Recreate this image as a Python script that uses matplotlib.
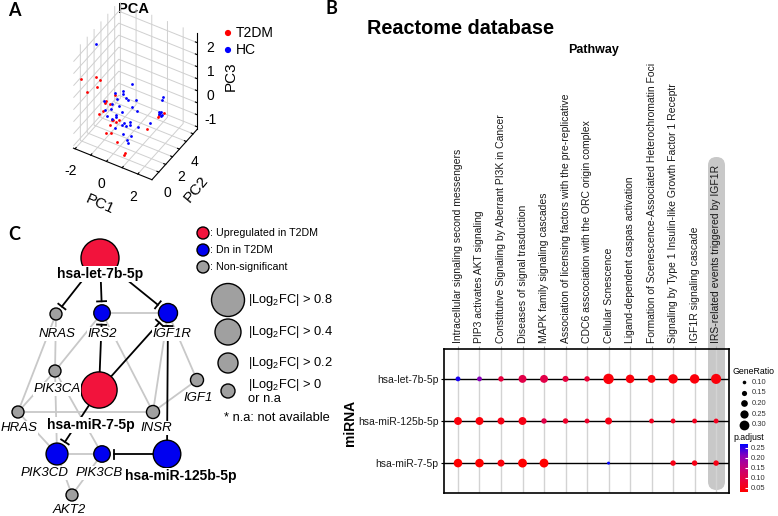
"""
multi-panel figure: PCA (A), Reactome dot plot (B), miRNA-target network (C)
"""

import numpy as np
import matplotlib
matplotlib.use('Agg')
import matplotlib.pyplot as plt
from matplotlib.patches import Circle, FancyBboxPatch
from matplotlib.colors import LinearSegmentedColormap, Normalize
from matplotlib.cm import ScalarMappable

plt.rcParams['font.family'] = ['Liberation Sans', 'DejaVu Sans']
plt.rcParams['mathtext.default'] = 'regular'

t2dm_pc1 = [-2.04, -1.32, -1.30, -1.69, -1.25, -0.88, -0.95, -0.58, -0.90, -1.11, -0.52, -0.46, -0.51,
            -0.67, -0.30, -0.49, -0.14, 0.21, 0.81, 0.74, 1.73, 1.32, 1.67, -0.67, 1.39]
t2dm_pc2 = [0.0, 0.5, 1.0, 0.0, 0.5, 1.0, 1.0, 1.5, 0.5, 0.5, 1.0, 1.0, 1.5,
            1.0, 1.5, 0.0, 0.0, 0.0, -0.2, -0.2, 1.0, 3.5, 3.5, 1.0, 3.5]
t2dm_pc3 = [0.98, 1.07, 0.80, 0.54, 0.68, 0.05, -0.05, 0.22, -0.22, -0.40, -0.63, -0.65, -0.91,
            -0.88, -0.77, -0.86, -0.76, -1.07, -1.28, -1.38, -0.43, -0.82, -0.56, -0.01, -0.72]

hc_pc1 = [-1.78, 0.09, -0.28, -0.28, -0.63, -0.07, 0.07, 0.37, 0.09, -0.30, -0.72, -1.28, -0.79,
          -1.21, -0.70, -0.35, -0.70, -0.72, -0.21, -0.07, -0.05, -0.05, 0.51, 1.02, -0.02, 0.28,
          0.19, 0.26, 1.22, 1.15, 1.13, 1.20, 1.27, 1.34, 1.39, 1.27, -0.58, -1.07, 0.44, -0.58, -0.35]
hc_pc2 = [1.5, 2.5, 2.0, 2.0, 2.0, 2.0, 2.0, 2.5, 2.5, 1.5, 1.5, 1.5, 1.5,
          1.5, 2.0, 2.0, 2.0, 1.5, 2.0, 2.0, 2.5, 2.5, 2.5, 3.0, 1.5, 2.0,
          1.5, 1.5, 4.5, 4.5, 4.0, 4.0, 4.0, 4.0, 3.5, 4.0, 1.5, 1.5, 2.5, 1.5, 2.0]
hc_pc3 = [2.04, 0.51, 0.32, 0.19, -0.11, 0.05, 0.00, -0.07, -0.44, -0.15, -0.19, -0.22, -0.41,
          -0.57, -0.79, -0.57, -0.91, -0.81, -1.03, -1.11, -1.10, -1.22, -1.14, -0.99, -1.27, -1.43,
          -1.46, -1.58, -0.37, -0.48, -0.82, -0.88, -0.82, -0.89, -0.68, -0.95, 0.31, -0.78, -0.51, -1.14, -1.15]

# ---------------- panel B data (Reactome enrichment)
pathways = ['Intracellular signaling second messengers',
            'PIP3 activates AKT signaling',
            'Constitutive Signaling by Aberrant PI3K in Cancer',
            'Diseases of signal trasduction',
            'MAPK family signaling cascades',
            'Association of licensing factors with the pre-replicative',
            'CDC6 asscociation with the ORC origin complex',
            'Cellular Scnescence',
            'Ligand-dependent caspas activation',
            'Formation of Scenescence-Associated Heterochromatin Foci',
            'Signaling by Type 1 Insulin-like Growth Factor 1 Receptr',
            'IGF1R signaling cascade',
            'IRS-related events triggered by IGF1R']
mirnas = ['hsa-let-7b-5p', 'hsa-miR-125b-5p', 'hsa-miR-7-5p']
nan = np.nan
gr_let7b = [0.14, 0.14, 0.16, 0.24, 0.24, 0.18, 0.16, 0.32, 0.26, 0.24, 0.29, 0.29, 0.31]
gr_mir125b = [0.24, 0.24, 0.21, 0.24, 0.16, 0.16, 0.14, 0.21, nan, 0.14, 0.14, 0.14, 0.14]
gr_mir7 = [0.26, 0.26, 0.21, 0.27, 0.27, nan, nan, 0.08, nan, nan, 0.16, 0.16, 0.16]
p_let7b = [0.26, 0.21, 0.09, 0.10, 0.10, 0.09, 0.08, 0.04, 0.04, 0.04, 0.04, 0.04, 0.04]
p_mir125b = [0.04, 0.04, 0.05, 0.05, 0.10, 0.07, 0.07, 0.05, nan, 0.06, 0.06, 0.06, 0.06]
p_mir7 = [0.03, 0.03, 0.04, 0.03, 0.03, nan, nan, 0.27, nan, nan, 0.05, 0.05, 0.05]
generatio_breaks = [0.10, 0.15, 0.20, 0.25, 0.30]
padj_breaks = [0.05, 0.10, 0.15, 0.20, 0.25]

# ---------------- panel C data (network)
nodes = ['hsa-let-7b-5p', 'hsa-miR-7-5p', 'hsa-miR-125b-5p', 'NRAS', 'IRS2', 'IGF1R',
         'PIK3CA', 'IGF1', 'HRAS', 'INSR', 'PIK3CD', 'PIK3CB', 'AKT2']
node_status = ['up', 'up', 'dn', 'ns', 'dn', 'dn', 'ns', 'ns', 'ns', 'ns', 'dn', 'dn', 'ns']
node_abs_fc = [1.0, 0.93, 0.6, 0.0, 0.17, 0.27, 0.0, 0.04, 0.0, 0.04, 0.38, 0.17, 0.0]
ppi_edges = [('IRS2', 'IGF1R'), ('NRAS', 'PIK3CA'), ('NRAS', 'HRAS'), ('IRS2', 'PIK3CA'),
             ('IRS2', 'INSR'), ('IGF1R', 'INSR'), ('IGF1R', 'IGF1'), ('IGF1', 'INSR'),
             ('HRAS', 'INSR'), ('PIK3CA', 'HRAS'), ('PIK3CA', 'PIK3CD'), ('PIK3CA', 'PIK3CB'),
             ('HRAS', 'PIK3CD'), ('PIK3CD', 'PIK3CB'), ('PIK3CD', 'AKT2'), ('PIK3CB', 'AKT2')]
mirna_targets = [('hsa-let-7b-5p', 'NRAS'), ('hsa-let-7b-5p', 'IRS2'), ('hsa-let-7b-5p', 'IGF1R'),
                 ('hsa-miR-7-5p', 'IRS2'), ('hsa-miR-7-5p', 'IGF1R'), ('hsa-miR-7-5p', 'PIK3CD'),
                 ('hsa-miR-125b-5p', 'PIK3CB'), ('hsa-miR-125b-5p', 'IGF1R')]

# layout of the network (figure pixels, y down)
node_xy = {'hsa-let-7b-5p': (100, 258), 'hsa-miR-7-5p': (99, 390), 'hsa-miR-125b-5p': (167, 454),
           'NRAS': (56, 314), 'IRS2': (102, 313), 'IGF1R': (168, 313), 'PIK3CA': (55, 371),
           'IGF1': (197, 380), 'HRAS': (18, 412), 'INSR': (153, 412), 'PIK3CD': (57, 454),
           'PIK3CB': (102, 454), 'AKT2': (72, 495)}
label_xy = {'hsa-let-7b-5p': (100, 274), 'hsa-miR-7-5p': (91, 425), 'hsa-miR-125b-5p': (181, 476),
            'NRAS': (57, 334), 'IRS2': (102, 334), 'IGF1R': (172, 334), 'PIK3CA': (57, 389),
            'IGF1': (198, 398), 'HRAS': (19, 428), 'INSR': (156, 428), 'PIK3CD': (45, 473),
            'PIK3CB': (99, 473), 'AKT2': (69, 510)}

W, H = 778, 516
fig = plt.figure(figsize=(W / 100, H / 100), dpi=100)

# overlay axes in pixel units for text, network and legends
ov = fig.add_axes([0, 0, 1, 1], zorder=0)
ov.set_xlim(0, W)
ov.set_ylim(H, 0)
ov.axis('off')
ov.patch.set_visible(False)

# panel letters
for letter, (x, y) in {'A': (14, 11), 'B': (331, 9), 'C': (14, 234)}.items():
    ov.text(x, y, letter, fontsize=13, fontweight='bold', family=['Lato', 'DejaVu Sans'],
            ha='center', va='center')

# ================= panel A
ax3 = fig.add_axes([45 / W, 1 - 184 / H, 176 / W, 182 / H], projection='3d', zorder=1)
ax3.patch.set_visible(False)
ax3.scatter(t2dm_pc1, t2dm_pc2, t2dm_pc3, c='#FF0000', s=4, depthshade=False, linewidths=0)
ax3.scatter(hc_pc1, hc_pc2, hc_pc3, c='#0000FF', s=4, depthshade=False, linewidths=0)
ax3.set_proj_type('ortho')
ax3.view_init(elev=42, azim=-59)
ax3.set_box_aspect((1.04, 1.0, 1.47))
ax3.set_xlim(-2.1, 2.9)
ax3.set_ylim(-1.0, 5.6)
ax3.set_zlim(-1.6, 2.4)
ax3.set_xticks([-2, -1, 0, 1, 2])
ax3.set_xticklabels(['-2', '', '0', '', '2'])
ax3.set_yticks([0, 1, 2, 3, 4, 5])
ax3.set_yticklabels(['0', '', '2', '', '4', ''])
ax3.set_zticks([-1.5, -1, -0.5, 0, 0.5, 1, 1.5, 2])
ax3.set_zticklabels(['', '-1', '', '0', '', '1', '', '2'])
for axis in (ax3.xaxis, ax3.yaxis, ax3.zaxis):
    axis.set_pane_color((1, 1, 1, 0))
    axis.pane.set_edgecolor('#C8C8C8')
    axis._axinfo['grid']['color'] = '#D0D0D0'
    axis._axinfo['grid']['linewidth'] = 0.7
    axis._axinfo['tick']['inward_factor'] = 0.0
    axis._axinfo['tick']['outward_factor'] = 0.3
    axis.line.set_color('black')
    axis.line.set_linewidth(0.8)
    axis.set_rotate_label(False)
ax3.zaxis.set_ticks_position('upper')
ax3.zaxis.set_label_position('upper')
ax3.tick_params(labelsize=10, pad=-1)
ax3.set_xlabel('PC1', fontsize=11, labelpad=-3, rotation=-24)
ax3.set_ylabel('PC2', fontsize=11, labelpad=-3, rotation=50)
ax3.set_zlabel('PC3', fontsize=11, labelpad=-3, rotation=90)
ov.text(134, 9, 'PCA', fontsize=10.5, fontweight='bold', ha='center', va='center')
ov.scatter([228, 228], [33, 50], s=20, c=['#FF0000', '#0000FF'], linewidths=0)
ov.text(236, 33, 'T2DM', fontsize=10, va='center')
ov.text(236, 50, 'HC', fontsize=10, va='center')

# ================= panel B
cmap = LinearSegmentedColormap.from_list(
    'padj', [(0, '#FF0000'), (0.25, '#E8003F'), (0.5, '#C4007A'), (0.75, '#8A00BA'), (1, '#0000FF')])
norm = Normalize(vmin=0.03, vmax=0.27)


def dot_size(gr):
    # marker area in pt^2 from gene ratio
    d_px = 0.5 + 31 * np.asarray(gr, dtype=float)
    return (d_px * 0.72) ** 2


axB = fig.add_axes([444 / W, 1 - 493 / H, 285 / W, 144 / H], zorder=2)
axB.set_facecolor('none')
ncol = len(pathways)
for i in range(ncol):
    axB.axvline(i, color='#D3D3D3', lw=1, zorder=1)
for j in range(len(mirnas)):
    axB.axhline(j, color='black', lw=1, zorder=2)
for j, (gr, pv) in enumerate([(gr_let7b, p_let7b), (gr_mir125b, p_mir125b), (gr_mir7, p_mir7)]):
    gr = np.array(gr)
    pv = np.array(pv)
    ok = ~np.isnan(gr)
    xs = np.arange(ncol)[ok]
    axB.scatter(xs, np.full(len(xs), j), s=dot_size(gr[ok]), c=cmap(norm(pv[ok])),
                linewidths=0, zorder=3)
axB.set_xlim(-0.65, ncol - 1 + 0.6)
axB.set_ylim(2.71, -0.71)
axB.set_xticks(range(ncol))
axB.set_xticklabels(pathways, rotation=90, fontsize=7.5, color='#1A1A1A')
axB.xaxis.tick_top()
axB.tick_params(axis='x', length=2.5, color='#AAAAAA', pad=2)
axB.set_yticks(range(len(mirnas)))
axB.set_yticklabels(mirnas, fontsize=7.5, color='#1A1A1A')
axB.tick_params(axis='y', length=2.5, pad=1.5)
for sp in axB.spines.values():
    sp.set_linewidth(1.2)

# highlight band behind the last pathway
hx = 716.5
band = FancyBboxPatch((hx - 8.5, 157), 17, 333, boxstyle='round,pad=0,rounding_size=8.5',
                      fc='#C8C8C8', ec='none', zorder=0)
ov.add_patch(band)

ov.text(461, 28, 'Reactome database', fontsize=14.3, fontweight='bold', ha='center', va='center')
ov.text(594, 50, 'Pathway', fontsize=9, fontweight='bold', ha='center', va='center')
ov.text(350, 423, 'miRNA', fontsize=10, fontweight='bold', rotation=90, ha='center', va='center')

# size legend
ov.text(733, 371, 'GeneRatio', fontsize=6.3, va='center')
for k, g in enumerate(generatio_breaks):
    yy = 382 + k * 10.7
    ov.scatter([744], [yy], s=dot_size(g), c='black', linewidths=0)
    ov.text(752, yy, f'{g:.2f}', fontsize=5.5, va='center', color='#333333')
ov.text(733, 437, 'p.adjust', fontsize=6.3, va='center')
cax = fig.add_axes([740 / W, 1 - 492 / H, 8 / W, 48 / H])
cb = fig.colorbar(ScalarMappable(norm=norm, cmap=cmap), cax=cax)
cb.set_ticks(padj_breaks)
cb.set_ticklabels([f'{p:.2f}' for p in padj_breaks])
cb.ax.tick_params(labelsize=5.5, length=2, color='white', direction='in', pad=2, labelcolor='#333333')
cb.outline.set_visible(False)

# ================= panel C
node_col = {'up': '#F2133C', 'dn': '#0000F0', 'ns': '#A0A0A0'}
fc_of = dict(zip(nodes, node_abs_fc))
st_of = dict(zip(nodes, node_status))


def radius(name):
    return 6 + 13 * fc_of[name]


for a, b in ppi_edges:
    (x1, y1), (x2, y2) = node_xy[a], node_xy[b]
    ov.plot([x1, x2], [y1, y2], color='#C8C8C8', lw=1.3, zorder=1)

for src, dst in mirna_targets:
    (x1, y1), (x2, y2) = node_xy[src], node_xy[dst]
    dx, dy = x2 - x1, y2 - y1
    L = np.hypot(dx, dy)
    ux, uy = dx / L, dy / L
    ex, ey = x2 - ux * (radius(dst) + 3.5), y2 - uy * (radius(dst) + 3.5)
    ov.plot([x1, ex], [y1, ey], color='black', lw=1.3, zorder=2)
    ov.plot([ex - uy * 4.5, ex + uy * 4.5], [ey + ux * 4.5, ey - ux * 4.5], color='black', lw=1.3, zorder=2)

for n in nodes:
    ov.add_patch(Circle(node_xy[n], radius(n), fc=node_col[st_of[n]], ec='black', lw=1.0, zorder=3))
    lx, ly = label_xy[n]
    if n.startswith('hsa'):
        ov.text(lx, ly, n, fontsize=10, fontweight='bold', ha='center', va='center', zorder=4,
                bbox=dict(boxstyle='square,pad=0.05', fc='white', ec='none'))
    else:
        ov.text(lx, ly, n, fontsize=9.5, style='italic', ha='center', va='center', zorder=4,
                bbox=dict(boxstyle='square,pad=0.05', fc='white', ec='none'))

# network legend
for yy, st, txt in [(233, 'up', ': Upregulated in T2DM'), (250, 'dn', ': Dn in T2DM'),
                    (267, 'ns', ': Non-significant')]:
    ov.add_patch(Circle((203, yy), 6, fc=node_col[st], ec='black', lw=1.0))
    ov.text(210, yy, txt, fontsize=7.7, va='center')
for yy, r, txt in [(300, 16.5, '|Log$_2$FC| > 0.8'), (332, 13, '|Log$_2$FC| > 0.4'),
                   (363, 10, '|Log$_2$FC| > 0.2'), (391, 7, '|Log$_2$FC| > 0\nor n.a')]:
    ov.add_patch(Circle((228, yy), r, fc=node_col['ns'], ec='black', lw=1.0))
    ov.text(248, yy, txt, fontsize=9.3, va='center', linespacing=1.1)
ov.text(224, 418, '* n.a: not available', fontsize=9.3, va='center')

fig.savefig('out.png', dpi=100)
